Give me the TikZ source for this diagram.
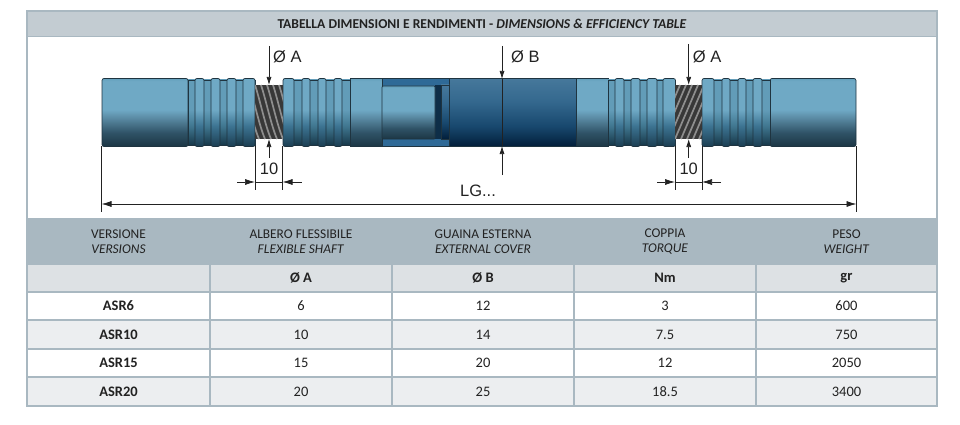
\documentclass[tikz,border=0pt]{standalone}
\usepackage{fontspec}
\usepackage{xcolor}
\setmainfont{Carlito}
\newfontfamily\dimfont{Liberation Sans}
\usetikzlibrary{arrows.meta,positioning}

\definecolor{framecol}{HTML}{A9B8C1}
\definecolor{titlecol}{HTML}{C3CCD2}
\definecolor{subcol}{HTML}{DDE1E4}
\definecolor{oddcol}{HTML}{ECEEF0}
\definecolor{textcol}{HTML}{222222}
\definecolor{edgecol}{HTML}{1F3440}
\definecolor{linecol}{HTML}{222222}
\definecolor{shaftlight}{HTML}{6FA9C5}
\definecolor{shafttop}{HTML}{64A0BC}
\definecolor{shaftmid}{HTML}{5A8AA3}
\definecolor{shaftlow}{HTML}{2F5266}
\definecolor{shaftdark}{HTML}{1C3644}
\definecolor{ridgelow}{HTML}{1C3E52}
\definecolor{ridgemid}{HTML}{3C7391}
\definecolor{grooveback}{HTML}{629CB8}
\definecolor{groovemid}{HTML}{417891}
\definecolor{groovelow}{HTML}{17384A}
\definecolor{coverlow}{HTML}{021E3A}
\definecolor{covermid}{HTML}{18486E}
\definecolor{coverup}{HTML}{34688E}
\definecolor{covertop}{HTML}{46789B}
\definecolor{cutwall}{HTML}{2F6A97}
\definecolor{cuthole}{HTML}{0E2E48}
\definecolor{wirelow}{HTML}{383838}
\definecolor{wireup}{HTML}{8E8E8E}

\pgfdeclareverticalshading{shaftshade}{100bp}{
  color(0bp)=(shaftdark); color(25bp)=(shaftdark); color(35bp)=(shaftlow);
  color(46bp)=(shaftmid); color(52bp)=(shaftlight); color(73bp)=(shaftlight);
  color(75bp)=(shafttop); color(100bp)=(shafttop)}
\pgfdeclareverticalshading{ridgeshade}{100bp}{
  color(0bp)=(ridgelow); color(25bp)=(ridgelow);
  color(40bp)=(ridgemid); color(52bp)=(shaftlight);
  color(100bp)=(shaftlight)}
\pgfdeclareverticalshading{grooveshade}{100bp}{
  color(0bp)=(groovelow); color(25bp)=(groovelow);
  color(40bp)=(groovemid); color(52bp)=(grooveback);
  color(100bp)=(grooveback)}
\pgfdeclareverticalshading{covershade}{100bp}{
  color(0bp)=(coverlow); color(25bp)=(coverlow);
  color(40bp)=(covermid); color(58bp)=(coverup);
  color(75bp)=(covertop); color(100bp)=(covertop)}

\tikzset{
  cell/.style={draw=framecol,line width=1.1pt,inner sep=0pt,text=textcol,align=center,font=\fontsize{13.4}{15}\selectfont},
  bodycell/.style={cell,font=\fontsize{14.5}{16}\selectfont},
  dimline/.style={draw=linecol,line width=0.7pt},
  dimarrow/.style={dimline,-{Latex[length=8pt,width=5pt]}},
  sidearrow/.style={dimline,-{Latex[length=10pt,width=6pt]}},
  dimtext/.style={inner sep=0pt,text=linecol,font=\dimfont\fontsize{16.5}{18}\selectfont},
  shaftedge/.style={draw=edgecol,line width=0.7pt}
}
% one grooved stretch of the shaft: #1 and #2 its ends, #3 the list of ridges
\newcommand{\grooved}[3]{
  \shade[shading=grooveshade,shaftedge] (#1,80) rectangle (#2,145);
  \foreach \ra/\rb in {#3}
    \shade[shading=ridgeshade,shaftedge,rounded corners=2pt] (\ra,78.5) rectangle (\rb,146.5);
}

\begin{document}
\begin{tikzpicture}[x=1pt,y=-1pt]
\useasboundingbox (0,0) rectangle (960,425);
% frame and title
\node[cell,minimum width=910pt,minimum height=208pt] (frame) at (482,115) {};
\node[cell,fill=titlecol,minimum width=910pt,minimum height=25pt,font=\fontsize{13.6}{15}\selectfont\bfseries] (title) at (482,24) {TABELLA DIMENSIONI E RENDIMENTI - \textit{DIMENSIONS \& EFFICIENCY TABLE}};

% plain ends of the shaft
\shade[shading=shaftshade,shaftedge,rounded corners=2pt] (102,78.5) rectangle (188,146.5);
\shade[shading=shaftshade,shaftedge,rounded corners=2pt] (770,78.5) rectangle (856,146.5);
\shade[shading=shaftshade,shaftedge] (350,78.5) rectangle (382,146.5);
\shade[shading=shaftshade,shaftedge] (576,78.5) rectangle (608,146.5);
% grooved parts
\grooved{188}{255}{195/204,211/220,227/236,243/255}
\grooved{283}{350}{283/294,302/310,318/326,334/342}
\grooved{608}{675}{615/624,631/640,647/657,663/675.5}
\grooved{702}{770}{702/714,722/730,738/746,753/762}
% steel wire
\begin{scope}
\clip (255,85) rectangle (283,139);
\fill[wirelow] (255,85) rectangle (283,139);
\foreach \i in {-24,-18,...,30}
  \draw[wireup,line width=1.7pt] (255+\i,85) .. controls (260+\i,100) and (265+\i,125) .. (271+\i,139);
\end{scope}
\begin{scope}
\clip (675,85) rectangle (702,139);
\fill[wirelow] (675,85) rectangle (702,139);
\foreach \i in {-30,-24,...,30}
  \draw[wireup,line width=1.7pt] (675+\i,139) -- (698+\i,85);
\end{scope}
% outer cover and the cut away part
\shade[shading=covershade,shaftedge] (449,78.5) rectangle (576,146.5);
\fill[cutwall,draw=edgecol,line width=0.7pt] (382,78.5) rectangle (449,146.5);
\fill[cuthole] (435,85) rectangle (441,139);
\shade[shading=covershade,draw=edgecol] (441,85) rectangle (449,139);
\shade[shading=shaftshade,shaftedge,rounded corners=1pt] (382,86) rectangle (435,139);

% dimensions
\foreach \nm/\xm/\xa/\xb/\topy in {aleft/269/255/282.5/46,aright/688.7/675/702/44}{
  \coordinate (\nm top) at (\xm,\topy);
  \coordinate (\nm topend) at (\xm,85);
  \coordinate (\nm low) at (\xm,158);
  \coordinate (\nm lowend) at (\xm,139);
  \coordinate (\nm ea) at (\xa,146);
  \coordinate (\nm eaend) at (\xa,190);
  \coordinate (\nm eb) at (\xb,146);
  \coordinate (\nm ebend) at (\xb,190);
  \coordinate (\nm da) at (\xa-18,182);
  \coordinate (\nm daend) at (\xa,182);
  \coordinate (\nm db) at (\xb+19,182);
  \coordinate (\nm dbend) at (\xb,182);
  \draw[dimarrow] (\nm top) to (\nm topend);
  \draw[dimarrow] (\nm low) to (\nm lowend);
  \draw[dimline] (\nm ea) to (\nm eaend);
  \draw[dimline] (\nm eb) to (\nm ebend);
  \draw[sidearrow] (\nm da) to (\nm daend);
  \draw[sidearrow] (\nm db) to (\nm dbend);
  \draw[dimline] (\nm daend) to (\nm dbend);
  \node[dimtext,anchor=west] (\nm label) at (\xm+4,56.5) {Ø A};
  \node[dimtext] (\nm size) at (\xm,168.5) {10};
}
\coordinate (btop) at (502,46);
\coordinate (btopend) at (502,79);
\coordinate (blow) at (502,175);
\coordinate (blowend) at (502,146);
\draw[dimarrow] (btop) to (btopend);
\draw[dimarrow] (blow) to (blowend);
\draw[dimline] (btopend) to (blowend);
\node[dimtext,anchor=west] (blabel) at (511,56.5) {Ø B};

\coordinate (lgea) at (101.5,146);
\coordinate (lgeaend) at (101.5,212);
\coordinate (lgeb) at (856.5,146);
\coordinate (lgebend) at (856.5,212);
\coordinate (lga) at (101.5,204);
\coordinate (lgb) at (856.5,204);
\draw[dimline] (lgea) to (lgeaend);
\draw[dimline] (lgeb) to (lgebend);
\draw[dimline,{Latex[length=10pt,width=6pt]}-{Latex[length=10pt,width=6pt]}] (lga) to (lgb);
\node[dimtext] (lglabel) at (478,191) {LG...};

% table head
\foreach \cname/\cx/\cw/\hit/\hen/\unit in {
  versione/118.5/183/VERSIONE/VERSIONS/,
  albero/301/182/ALBERO FLESSIBILE/FLEXIBLE SHAFT/Ø A,
  guaina/483/182/GUAINA ESTERNA/EXTERNAL COVER/Ø B,
  coppia/665/182/COPPIA/TORQUE/Nm,
  peso/846.5/181/PESO/WEIGHT/gr}{
  \node[cell,fill=framecol,minimum width=\cw pt,minimum height=45pt] (\cname head) at (\cx,241.5) {\hit\\\textit{\hen}};
  \node[bodycell,fill=subcol,minimum width=\cw pt,minimum height=28pt,font=\fontsize{14.5}{16}\selectfont\bfseries] (\cname unit) at (\cx,278) {\unit};
}
% table rows
\foreach \rname/\ry/\rh/\rfill/\rver/\ra/\rb/\rn/\rg in {
  rsix/306/28/white/ASR6/6/12/3/600,
  rten/334.5/29/oddcol/ASR10/10/14/7.5/750,
  rfifteen/363/28/white/ASR15/15/20/12/2050,
  rtwenty/391.5/29/oddcol/ASR20/20/25/18.5/3400}{
  \node[bodycell,fill=\rfill,minimum width=183pt,minimum height=\rh pt,font=\fontsize{14.5}{16}\selectfont\bfseries] (\rname ver) at (118.5,\ry) {\rver};
  \node[bodycell,fill=\rfill,minimum width=182pt,minimum height=\rh pt] (\rname a) at (301,\ry) {\ra};
  \node[bodycell,fill=\rfill,minimum width=182pt,minimum height=\rh pt] (\rname b) at (483,\ry) {\rb};
  \node[bodycell,fill=\rfill,minimum width=182pt,minimum height=\rh pt] (\rname n) at (665,\ry) {\rn};
  \node[bodycell,fill=\rfill,minimum width=181pt,minimum height=\rh pt] (\rname g) at (846.5,\ry) {\rg};
}
\end{tikzpicture}
\end{document}
